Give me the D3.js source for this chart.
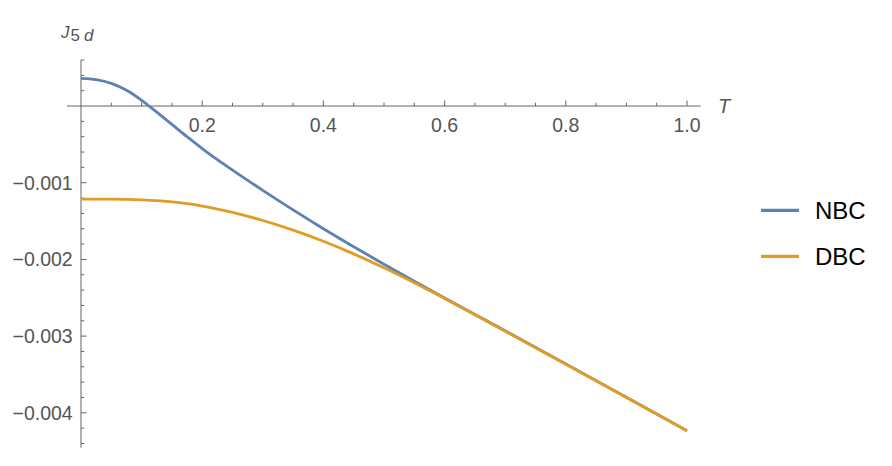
<!DOCTYPE html>
<html>
<head>
<meta charset="utf-8">
<script src="https://cdn.jsdelivr.net/npm/d3@7"></script>
<style>
  html, body { margin: 0; padding: 0; background: #fff; }
  svg { display: block; font-family: "Liberation Sans", Arial, Helvetica, sans-serif; }
</style>
</head>
<body>
<svg id="chart" width="892" height="466"></svg>
<script>
// ---- data ----
const T   = [0, 0.025, 0.05, 0.075, 0.1, 0.125, 0.15, 0.175, 0.2, 0.225, 0.25, 0.3, 0.35, 0.4, 0.45, 0.5, 0.55, 0.6, 0.65, 0.7, 0.8, 0.9, 1.0];
const NBC = [0.00036, 0.000343, 0.000295, 0.000205, 0.000075, -0.00008, -0.00024, -0.0004, -0.000555, -0.0007, -0.000835, -0.0011, -0.001355, -0.0016, -0.001835, -0.002063, -0.002285, -0.002503, -0.002717, -0.002931, -0.003362, -0.003797, -0.004233];
const DBC = [-0.001213, -0.001213, -0.001214, -0.001217, -0.001223, -0.001233, -0.00125, -0.001274, -0.001305, -0.001343, -0.0013875, -0.0014925, -0.0016175, -0.0017625, -0.0019275, -0.00211, -0.002305, -0.00251, -0.002722, -0.002936, -0.003368, -0.0038, -0.004233];
const seriesNames = ["NBC", "DBC"];
const seriesColors = ["#5E81B5", "#E19C24"];
const xMajorTicks = [0.2, 0.4, 0.6, 0.8, 1.0];
const xTickLabels = ["0.2", "0.4", "0.6", "0.8", "1.0"];
const yMajorTicks = [-0.001, -0.002, -0.003, -0.004];
const yTickLabels = ["\u22120.001", "\u22120.002", "\u22120.003", "\u22120.004"];

// ---- scales ----
const svg = d3.select("#chart");
const x = d3.scaleLinear().domain([-0.0231, 1.0226]).range([67, 700.7]);
const y = d3.scaleLinear().domain([0.0006, -0.004455]).range([60, 447.7]);
const axisColor = "#666";
const x0 = x(0), y0 = y(0);

// ---- x axis ----
const gx = svg.append("g");
gx.append("line").attr("x1", x.range()[0]).attr("x2", x.range()[1])
  .attr("y1", y0).attr("y2", y0).attr("stroke", axisColor).attr("stroke-width", 1);
const xMinor = d3.range(1, 21).map(i => i * 0.05).filter(v => !xMajorTicks.some(m => Math.abs(m - v) < 1e-9));
gx.selectAll("line.minor").data(xMinor).join("line").attr("class", "minor")
  .attr("x1", d => x(d)).attr("x2", d => x(d)).attr("y1", y0).attr("y2", y0 - 3.3)
  .attr("stroke", axisColor).attr("stroke-width", 1);
gx.selectAll("line.major").data(xMajorTicks).join("line").attr("class", "major")
  .attr("x1", d => x(d)).attr("x2", d => x(d)).attr("y1", y0).attr("y2", y0 - 5.5)
  .attr("stroke", axisColor).attr("stroke-width", 1);
gx.selectAll("text").data(xMajorTicks).join("text")
  .attr("x", d => x(d)).attr("y", 132.3).attr("text-anchor", "middle")
  .attr("font-size", 19.5).attr("fill", "#555")
  .text((d, i) => xTickLabels[i]);

// ---- y axis ----
const gy = svg.append("g");
gy.append("line").attr("x1", x0).attr("x2", x0)
  .attr("y1", y.range()[0]).attr("y2", y.range()[1]).attr("stroke", axisColor).attr("stroke-width", 1);
const yMinor = d3.range(-22, 4).map(i => i * 0.0002)
  .filter(v => Math.abs(v) > 1e-12 && !yMajorTicks.some(m => Math.abs(m - v) < 1e-9));
gy.selectAll("line.minor").data(yMinor).join("line").attr("class", "minor")
  .attr("x1", x0).attr("x2", x0 + 3.3).attr("y1", d => y(d)).attr("y2", d => y(d))
  .attr("stroke", axisColor).attr("stroke-width", 1);
gy.selectAll("line.major").data(yMajorTicks).join("line").attr("class", "major")
  .attr("x1", x0).attr("x2", x0 + 5.7).attr("y1", d => y(d)).attr("y2", d => y(d))
  .attr("stroke", axisColor).attr("stroke-width", 1);
gy.selectAll("text").data(yMajorTicks).join("text")
  .attr("x", 72.7).attr("y", d => y(d) + 7).attr("text-anchor", "end")
  .attr("font-size", 19.5).attr("fill", "#555")
  .text((d, i) => yTickLabels[i]);

// ---- axis labels ----
const yl = svg.append("text").attr("x", 61).attr("y", 38).attr("fill", "#555").attr("font-size", 17);
yl.append("tspan").attr("font-style", "italic").text("J");
yl.append("tspan").attr("dy", 2.5).attr("dx", 1).text("5");
yl.append("tspan").attr("dx", 4).attr("font-style", "italic").text("d");
svg.append("text").attr("x", 718).attr("y", 113).attr("fill", "#555")
  .attr("font-size", 20).attr("font-style", "italic").text("T");

// ---- curves ----
const line = d3.line().x(d => x(d[0])).y(d => y(d[1])).curve(d3.curveMonotoneX);
[NBC, DBC].forEach((vals, i) => {
  svg.append("path").datum(T.map((t, j) => [t, vals[j]]))
    .attr("d", line).attr("fill", "none").attr("stroke", seriesColors[i])
    .attr("stroke-width", 2.8).attr("stroke-linecap", "butt");
});

// ---- legend ----
const lg = svg.append("g");
seriesNames.forEach((name, i) => {
  const ly = 210.3 + i * 46;
  lg.append("line").attr("x1", 761).attr("x2", 799).attr("y1", ly).attr("y2", ly)
    .attr("stroke", seriesColors[i]).attr("stroke-width", 3.2);
  lg.append("text").attr("x", 815).attr("y", ly + 8.5).attr("font-size", 24).attr("fill", "#000").text(name);
});
</script>
</body>
</html>
